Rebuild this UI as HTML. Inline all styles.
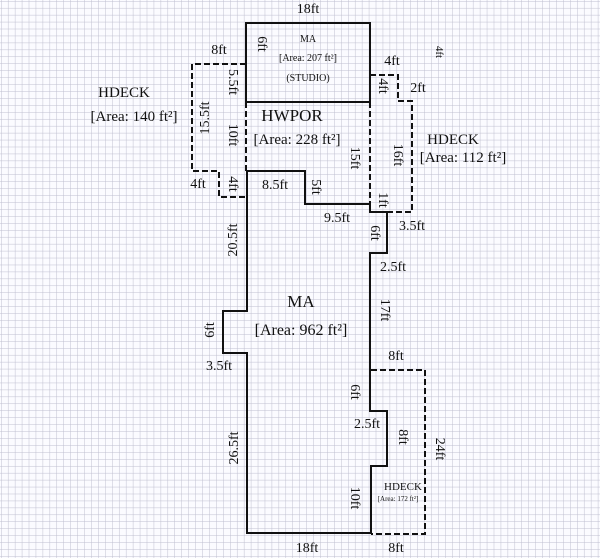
<!DOCTYPE html>
<html><head><meta charset="utf-8"><style>
html,body{margin:0;padding:0;background:#fff}
svg{display:block}
text{font-family:"Liberation Serif",serif;fill:#111}
</style></head><body>
<svg width="600" height="558" viewBox="0 0 600 558" xmlns="http://www.w3.org/2000/svg">
<defs>
<pattern id="g" x="1" y="1" width="6.94" height="6.94" patternUnits="userSpaceOnUse">
<path d="M0 0H6.94M0 0V6.94" stroke="#bfbfd0" stroke-width="1" fill="none"/>
</pattern>
</defs>
<rect width="600" height="558" fill="#fbfbff"/>
<rect width="600" height="558" fill="url(#g)"/>
<g fill="none" stroke="#111" stroke-width="2">
<rect x="246" y="23" width="124" height="79"/>
<path d="M246 171H305V204H370V212H387V253H370V411H387V466H371V533H247V353H223V311H247V171"/>
</g>
<g fill="none" stroke="#111" stroke-width="2" stroke-dasharray="6,3">
<path d="M246 102V171M370 102V204"/>
<path d="M246 64H192V171H219V197H246"/>
<path d="M370 75H398V101H412V212H370"/>
<path d="M371 370H425V534H371"/>
</g>
<g font-size="14" text-anchor="middle">
<text x="308" y="13">18ft</text>
<text x="219" y="54">8ft</text>
<text x="308" y="42" font-size="10">MA</text>
<text x="308" y="61" font-size="10">[Area: 207 ft²]</text>
<text x="308" y="81" font-size="10">(STUDIO)</text>
<text x="124" y="97" font-size="15">HDECK</text>
<text x="134" y="121" font-size="15">[Area: 140 ft²]</text>
<text x="392" y="65">4ft</text>
<text x="418" y="92">2ft</text>
<text x="292" y="121" font-size="17">HWPOR</text>
<text x="297" y="144" font-size="15">[Area: 228 ft²]</text>
<text x="453" y="144" font-size="15">HDECK</text>
<text x="463" y="162" font-size="15">[Area: 112 ft²]</text>
<text x="198" y="188">4ft</text>
<text x="275" y="189">8.5ft</text>
<text x="337" y="222">9.5ft</text>
<text x="412" y="230">3.5ft</text>
<text x="393" y="271">2.5ft</text>
<text x="301" y="307" font-size="17">MA</text>
<text x="301" y="335" font-size="16">[Area: 962 ft²]</text>
<text x="219" y="370">3.5ft</text>
<text x="396" y="360">8ft</text>
<text x="367" y="428">2.5ft</text>
<text x="403" y="490" font-size="11">HDECK</text>
<text x="398" y="501" font-size="7">[Area: 172 ft²]</text>
<text x="307" y="552">18ft</text>
<text x="396" y="552">8ft</text>
</g>
<g font-size="14" text-anchor="middle">
<text transform="translate(258,44) rotate(90)">6ft</text>
<text transform="translate(229,82) rotate(90)">5.5ft</text>
<text transform="translate(209,118) rotate(-90)">15.5ft</text>
<text transform="translate(436,52) rotate(90)" fill="#555" font-size="11">4ft</text>
<text transform="translate(379,86) rotate(90)">4ft</text>
<text transform="translate(229,135) rotate(90)">10ft</text>
<text transform="translate(351,158) rotate(90)">15ft</text>
<text transform="translate(394,155) rotate(90)">16ft</text>
<text transform="translate(229,184) rotate(90)">4ft</text>
<text transform="translate(312,187) rotate(90)">5ft</text>
<text transform="translate(379,200) rotate(90)">1ft</text>
<text transform="translate(371,233) rotate(90)">6ft</text>
<text transform="translate(237,240) rotate(-90)">20.5ft</text>
<text transform="translate(381,310) rotate(90)">17ft</text>
<text transform="translate(214,330) rotate(-90)">6ft</text>
<text transform="translate(351,392) rotate(90)">6ft</text>
<text transform="translate(399,437) rotate(90)">8ft</text>
<text transform="translate(436,449) rotate(90)">24ft</text>
<text transform="translate(238,448) rotate(-90)">26.5ft</text>
<text transform="translate(351,498) rotate(90)">10ft</text>
</g>
</svg>
</body></html>
